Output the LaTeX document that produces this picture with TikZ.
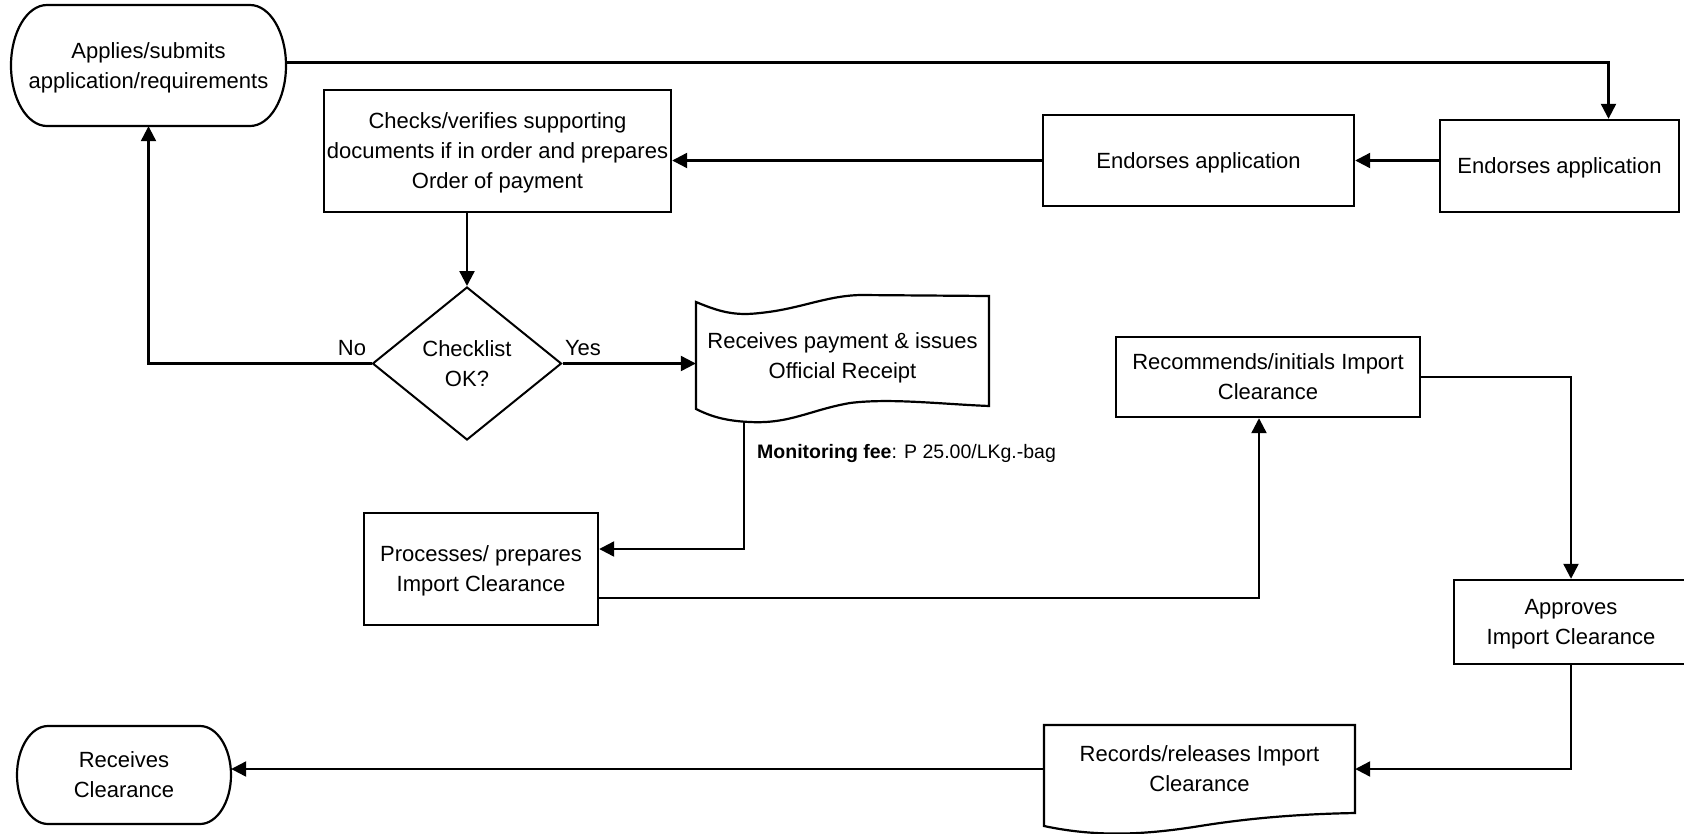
\documentclass[tikz,border=0pt]{standalone}
\usepackage{fontspec}
\setmainfont{Liberation Sans}
\usetikzlibrary{arrows.meta,shapes.geometric,calc}
\begin{document}
\begin{tikzpicture}[x=1pt,y=-1pt,
  every node/.style={font=\fontsize{22}{30}\selectfont, align=center, inner sep=0pt},
  box/.style={draw, line width=2.4pt, rectangle, text depth=-1pt},
  dec/.style={draw, line width=2pt, diamond, text depth=-1pt},
  plain/.style={rectangle, text depth=-1pt},
  outline/.style={line width=2.2pt},
  arr/.style={line width=2.3pt, -{Triangle[length=15pt,width=15pt]}},
  feefont/.style={font=\fontsize{19.5}{24}\selectfont}
]
\fill[white] (0,0) rectangle (1684,833);
\useasboundingbox (0,0) rectangle (1684,833);

% nodes
\node[plain, minimum width=275pt, minimum height=121pt] (app) at (148.5,65.5) {Applies/submits\\application/requirements};
\node[box, minimum width=347pt, minimum height=122pt] (chk) at (497.5,151) {Checks/verifies supporting\\documents if in order and prepares\\Order of payment};
\node[box, minimum width=311pt, minimum height=91pt] (endM) at (1198.5,160.5) {Endorses application};
\node[box, minimum width=239pt, minimum height=92pt] (endR) at (1559.5,166) {Endorses application};
\node[dec, minimum width=189pt, minimum height=153pt] (dia) at (467,363.5) {Checklist\\OK?};
\node[plain, minimum width=293pt, minimum height=108pt] (rcpt) at (842.5,356) {Receives payment \& issues\\Official Receipt};
\node[box, minimum width=234pt, minimum height=112pt] (proc) at (481,569) {Processes/ prepares\\Import Clearance};
\node[box, minimum width=304pt, minimum height=80pt] (rec) at (1268,377) {Recommends/initials Import\\Clearance};
\node[box, minimum width=234pt, minimum height=84pt] (appr) at (1571,622) {Approves\\Import Clearance};
\node[plain, minimum width=311pt, minimum height=88pt] (rcd) at (1199.5,769) {Records/releases Import\\Clearance};
\node[plain, minimum width=214pt, minimum height=98pt] (rc) at (124,775) {Receives\\Clearance};
\node[feefont, anchor=west] (fee) at (757,453) {\textbf{Monitoring fee}: P 25.00/LKg.-bag};
\node (no) at (352,348) {No};
\node (yes) at (583,348) {Yes};

% terminals (half-ellipse ends)
\draw[outline] (47,5) -- (250,5)
  .. controls (269.9,5) and (286,32.1) .. (286,65.5)
  .. controls (286,98.9) and (269.9,126) .. (250,126)
  -- (47,126)
  .. controls (27.1,126) and (11,98.9) .. (11,65.5)
  .. controls (11,32.1) and (27.1,5) .. cycle;
\draw[outline] (48,726) -- (200,726)
  .. controls (217.1,726) and (231,748) .. (231,775)
  .. controls (231,802) and (217.1,824) .. (200,824)
  -- (48,824)
  .. controls (30.9,824) and (17,802) .. (17,775)
  .. controls (17,748) and (30.9,726) .. cycle;

% document shapes
\draw[outline] (696,302) .. controls (720,312) and (735,316) .. (760,313)
  .. controls (800,309) and (825,296) .. (860,295)
  -- (989,296)
  -- (989,406)
  .. controls (940,404) and (890,398) .. (850,403)
  .. controls (810,410) and (790,424) .. (750,422)
  .. controls (725,421) and (710,416) .. (696,409) -- cycle;
\draw[outline] (1044,725) -- (1355,725) -- (1355,813)
  .. controls (1300,814) and (1250,818) .. (1200,826)
  .. controls (1150,834) and (1100,838) .. (1044,826) -- cycle;
\coordinate (rb) at (744,422);

% connectors
\draw[arr] ([yshift=3pt]app.east) -| ([xshift=49pt]endR.north);
\draw[arr] (endR.west |- endM.east) -- (endM.east);
\draw[arr] (endM.west) -- (endM.west -| chk.east);
\draw[arr] (dia.north |- chk.south) -- (dia.north);
\draw[arr] (dia.west) -| (app.south);
\draw[arr] (dia.east) -- (dia.east -| rcpt.west);
\draw[arr] (rb) |- ([yshift=20pt]proc.east);
\draw[arr] ([yshift=-29pt]proc.east) -| ([xshift=-9pt]rec.south);
\draw[arr] (rec.east) -| (appr.north);
\draw[arr] (appr.south) |- (rcd.east);
\draw[arr] (rcd.west) -- (rcd.west -| rc.east);
\end{tikzpicture}
\end{document}
